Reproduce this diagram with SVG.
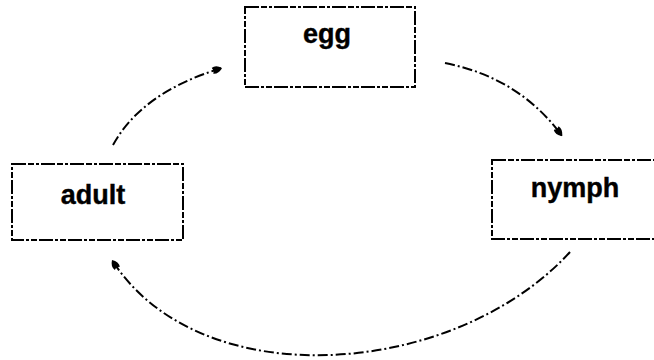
<svg xmlns="http://www.w3.org/2000/svg" width="654" height="360" viewBox="0 0 654 360">
  <defs>
    <marker id="head" markerUnits="userSpaceOnUse" markerWidth="12" markerHeight="10" refX="10" refY="5" orient="auto">
      <path d="M0,2 Q5,0 10,5 Q5,10 0,8 Q2,5 0,2 z" fill="#000"/>
    </marker>
  </defs>
  <style>
    .box { fill: #fff; stroke: #000; stroke-width: 2; stroke-dasharray: 14 2 6 2 3 2; }
    .lbl { font-family: "Liberation Sans", Arial, Helvetica, sans-serif; font-weight: bold; font-size: 27px; fill: #000; stroke: #000; stroke-width: 0.4; text-anchor: middle; }
    .conn { fill: none; stroke: #000; stroke-width: 2; stroke-dasharray: 10 3 2 3; marker-end: url(#head); }
  </style>
  <rect width="654" height="360" fill="#fff"/>
  <g id="connectors">
    <path class="conn" d="M445,63 Q520,78 562,136"/>
    <path class="conn" d="M113,145 Q142,92 222,68"/>
    <path class="conn" d="M570,252 C455,378 200,398 112,260"/>
  </g>
  <g id="egg">
    <rect class="box" x="245" y="7" width="170" height="80"/>
    <text class="lbl" x="327" y="43">egg</text>
  </g>
  <g id="adult">
    <rect class="box" x="12" y="164" width="171" height="76"/>
    <text class="lbl" x="93" y="204">adult</text>
  </g>
  <g id="nymph">
    <rect class="box" x="492" y="160" width="170" height="79"/>
    <text class="lbl" x="575" y="197">nymph</text>
  </g>
</svg>
